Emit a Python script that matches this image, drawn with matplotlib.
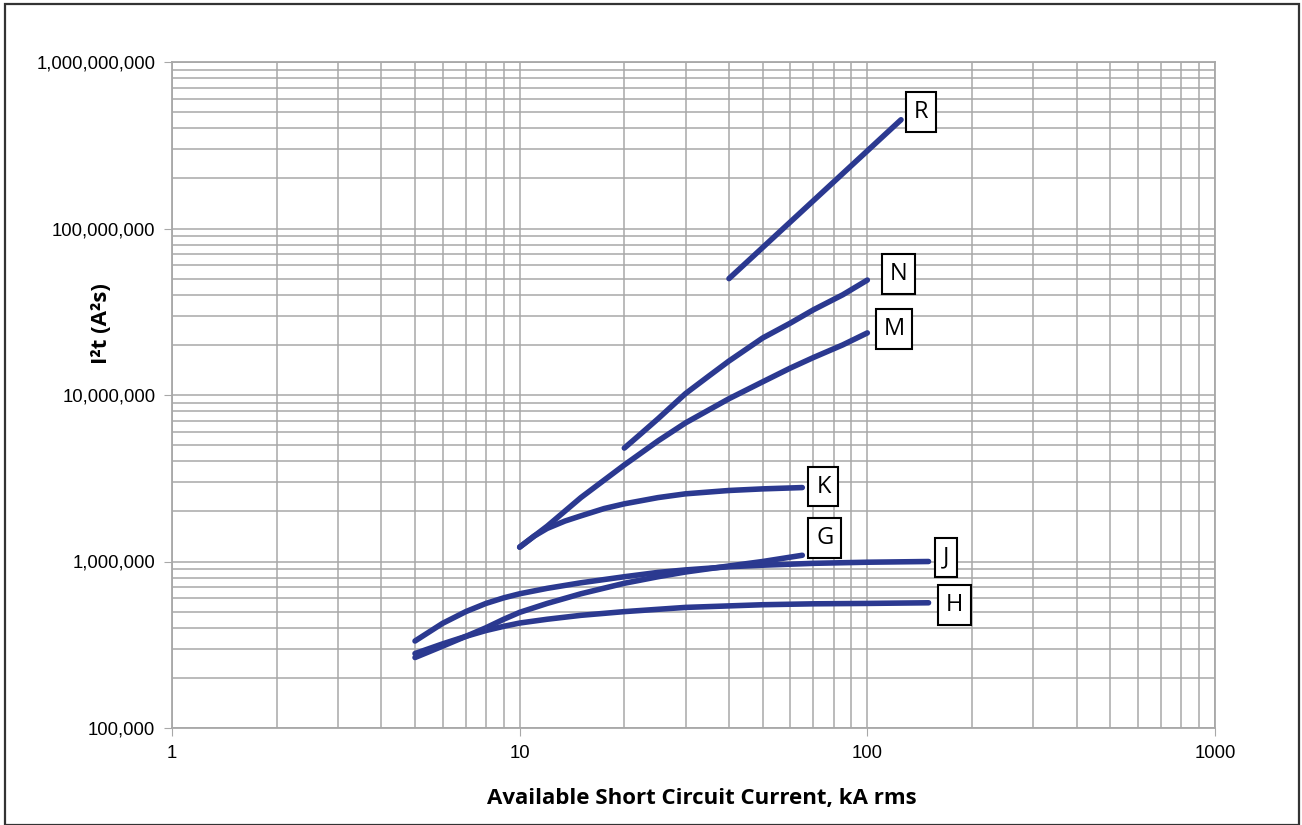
import matplotlib.pyplot as plt
from matplotlib.patches import Rectangle
from matplotlib.ticker import FixedLocator, FuncFormatter, NullFormatter

plt.rcParams['font.family'] = ['Liberation Sans', 'DejaVu Sans']

# fuse curves, I2t vs available short circuit current (kA rms)
R_x = [40, 125]
R_y = [5.0e7, 4.5e8]

N_x = [20, 22, 25, 30, 35, 40, 50, 60, 70, 85, 100]
N_y = [4.8e6, 5.7e6, 7.2e6, 1.02e7, 1.3e7, 1.6e7, 2.2e7, 2.7e7, 3.25e7, 4.0e7, 4.9e7]

M_x = [10, 12, 15, 20, 25, 30, 40, 50, 60, 70, 85, 100]
M_y = [1.22e6, 1.63e6, 2.42e6, 3.8e6, 5.3e6, 6.8e6, 9.5e6, 1.2e7, 1.45e7, 1.68e7, 2.0e7, 2.36e7]

K_x = [10, 11, 12, 13.5, 15, 17.5, 20, 25, 30, 40, 50, 65]
K_y = [1.22e6, 1.42e6, 1.58e6, 1.75e6, 1.88e6, 2.08e6, 2.22e6, 2.42e6, 2.55e6, 2.67e6, 2.73e6, 2.78e6]

G_x = [5, 6, 7, 8, 9, 10, 12, 15, 20, 25, 30, 40, 50, 65]
G_y = [2.65e5, 3.1e5, 3.55e5, 4.0e5, 4.5e5, 4.95e5, 5.6e5, 6.4e5, 7.4e5, 8.1e5, 8.65e5, 9.4e5, 1.0e6, 1.09e6]

H_x = [5, 6, 7, 8, 9, 10, 12, 15, 20, 30, 50, 70, 100, 150]
H_y = [2.8e5, 3.2e5, 3.55e5, 3.85e5, 4.08e5, 4.27e5, 4.5e5, 4.75e5, 5.0e5, 5.3e5, 5.5e5, 5.57e5, 5.6e5, 5.65e5]

J_x = [5, 6, 7, 8, 9, 10, 12, 15, 20, 25, 30, 40, 50, 70, 100, 150]
J_y = [3.33e5, 4.25e5, 5.0e5, 5.6e5, 6.05e5, 6.4e5, 6.9e5, 7.45e5, 8.1e5, 8.6e5, 8.9e5, 9.3e5, 9.5e5, 9.75e5, 9.9e5, 1.0e6]

curves = [('R', R_x, R_y, (13, 8)), ('N', N_x, N_y, (22, 6)), ('M', M_x, M_y, (16, 4)),
          ('K', K_x, K_y, (14, 1)), ('G', G_x, G_y, (14, 17)), ('J', J_x, J_y, (14, 4)),
          ('H', H_x, H_y, (17, -2))]

xticks = [1, 10, 100, 1000]
yticks = [1e5, 1e6, 1e7, 1e8, 1e9]

line_color = '#2b3990'
grid_color = '#a8a8a8'

fig = plt.figure(figsize=(13.02, 8.25), dpi=100)
ax = fig.add_axes([172 / 1302, 1 - 728 / 825, 1043 / 1302, 666 / 825])

for name, xs, ys, off in curves:
    ax.plot(xs, ys, color=line_color, lw=4.0, solid_capstyle='round', solid_joinstyle='round', zorder=3)
    ax.annotate(name, xy=(xs[-1], ys[-1]), xytext=(off[0], off[1]), textcoords='offset pixels',
                ha='left', va='center', fontsize=17, family='Open Sans',
                bbox=dict(boxstyle='square,pad=0.33', fc='white', ec='black', lw=1.5), zorder=4)

ax.set_xscale('log')
ax.set_yscale('log')
ax.set_xlim(1, 1000)
ax.set_ylim(1e5, 1e9)

ax.xaxis.set_major_locator(FixedLocator(xticks))
ax.yaxis.set_major_locator(FixedLocator(yticks))
ax.xaxis.set_major_formatter(FuncFormatter(lambda v, p: '%d' % v))
ax.yaxis.set_major_formatter(FuncFormatter(lambda v, p: '{:,}'.format(int(round(v)))))
ax.xaxis.set_minor_formatter(NullFormatter())
ax.yaxis.set_minor_formatter(NullFormatter())

ax.grid(True, which='both', color=grid_color, lw=1.1)
ax.set_axisbelow(True)
for s in ax.spines.values():
    s.set_color(grid_color)
    s.set_linewidth(1.3)

ax.tick_params(which='major', length=6, color=grid_color, labelsize=13.3, pad=6)
ax.tick_params(which='minor', length=0)

ax.set_xlabel('Available Short Circuit Current, kA rms', fontsize=16, fontweight='bold', family='Open Sans')
ax.set_ylabel('I²t (A²s)', fontsize=16, fontweight='bold', family='Open Sans')
ax.xaxis.set_label_coords(0.508, -0.09)
ax.yaxis.set_label_coords(-0.058, 0.608)

# outer frame
fig.patches.append(Rectangle((5 / 1302, 0), 1294 / 1302, 821 / 825, transform=fig.transFigure,
                             fill=False, ec='#333333', lw=1.6))

fig.savefig('out.png', dpi=100)
